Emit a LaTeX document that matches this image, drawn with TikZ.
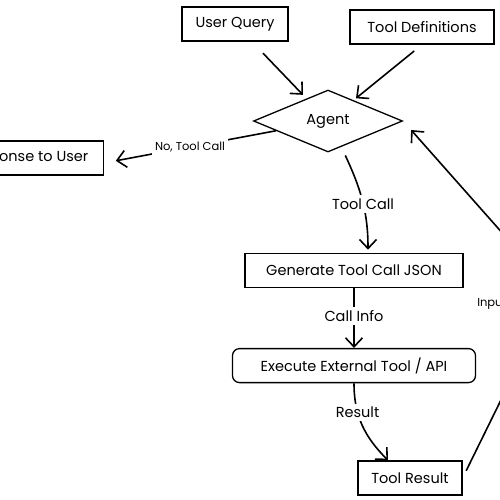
\documentclass[tikz,border=0pt]{standalone}
\usepackage{fontspec}
\setmainfont{Poppins}
\usetikzlibrary{positioning,shapes.geometric,arrows.meta}

\tikzstyle{box} = [rectangle, minimum height=34pt, inner xsep=4pt, text centered, draw=black, line width=1.3pt, font=\fontsize{14.5}{16}\selectfont]
\tikzstyle{rbox} = [box, rounded corners=7pt]
\tikzstyle{decision} = [diamond, minimum width=149pt, minimum height=62pt, inner sep=0pt, draw=black, line width=1.3pt, font=\fontsize{14.5}{16}\selectfont]
\tikzstyle{arrow} = [line width=1.6pt,->,>={Straight Barb[length=9pt,width=17pt]}]
\tikzstyle{edge label} = [fill=white, font=\fontsize{14.5}{16}\selectfont]
\tikzstyle{small label} = [fill=white, font=\fontsize{11.5}{13}\selectfont]

\begin{document}
\begin{tikzpicture}[x=1pt, y=1pt]
  \useasboundingbox (0,0) rectangle (500,-499);
  \clip (0,0) rectangle (500,-499);

  \node (Agent) [decision] at (328,-121) {Agent};
  \node (User Query) [box, minimum width=106pt] at (235,-24) {User Query};
  \node (Tool Definitions) [box, minimum width=144pt] at (422,-27) {Tool Definitions};
  \node (Response to User) [box, anchor=east, inner xsep=15pt] at (104,-158) {Response to User};
  \node (Generate) [box, minimum width=218pt, below=100pt of Agent, xshift=26pt] {Generate Tool Call JSON};
  \node (Execute) [rbox, minimum width=243pt, below=60pt of Generate] {Execute External Tool / API};
  \node (Tool Result) [box, minimum width=104pt, below=77pt of Execute, xshift=56pt] {Tool Result};
  \coordinate (bend low) at (528,-345);
  \coordinate (bend high) at (528,-262);

  \draw [arrow, shorten <=16pt, shorten >=5pt] (User Query) -- (Agent);
  \draw [arrow, shorten <=10pt, shorten >=3pt] (Tool Definitions.south) -- (Agent);
  \draw [arrow, shorten >=12pt] (Agent) -- node [small label] {No, Tool Call} ([yshift=-5pt]Response to User.east);
  \draw [arrow, shorten <=3pt, shorten >=3pt] ([xshift=16pt]Agent.south) to [out=-65, in=90] node [edge label, pos=0.53] {Tool Call} ([xshift=14pt]Generate.north);
  \draw [arrow] (Generate) -- node [edge label, pos=0.47] {Call Info} (Execute);
  \draw [arrow] (Execute) to [out=-90, in=135] node [edge label, pos=0.33] {Result} ([xshift=-22pt]Tool Result.north);
  \draw [arrow, rounded corners=40pt, shorten <=8pt, shorten >=12pt] (Tool Result.east) -- (bend low) -- node [small label, xshift=-36pt] {Input} (bend high) -- (Agent.east);
\end{tikzpicture}
\end{document}
